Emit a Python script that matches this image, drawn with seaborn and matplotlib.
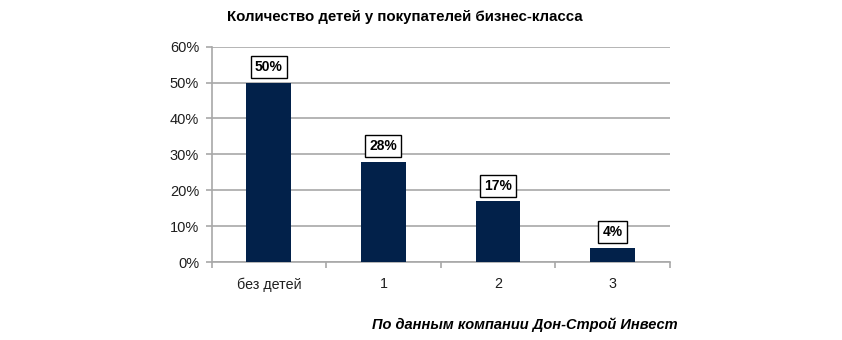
import matplotlib
matplotlib.use("Agg")
import matplotlib.pyplot as plt
import seaborn as sns
import pandas as pd

# Data: share of business-class buyers by number of children
categories = ["без детей", "1", "2", "3"]
shares = [0.50, 0.28, 0.17, 0.04]
y_ticks = [0.0, 0.1, 0.2, 0.3, 0.4, 0.5, 0.6]
y_tick_labels = ["0%", "10%", "20%", "30%", "40%", "50%", "60%"]

title = "Количество детей у покупателей бизнес-класса"
source = "По данным компании Дон-Строй Инвест"

sns.set_theme(style="white")
plt.rcParams["font.family"] = ["Liberation Sans", "DejaVu Sans"]

df = pd.DataFrame({"children": categories, "share": shares})

fig = plt.figure(figsize=(8.42, 3.40), dpi=100)
ax = fig.add_axes([0.2512, 0.2294, 0.5445, 0.6332])

bar_color = "#02214a"
sns.barplot(data=df, x="children", y="share", color=bar_color,
            width=0.39, linewidth=0, saturation=1, ax=ax, zorder=3)

ax.set_ylim(0, 0.6)
ax.set_xlim(-0.5, len(categories) - 0.5)
ax.set_yticks(y_ticks)
ax.set_yticklabels(y_tick_labels)
ax.set_xlabel("")
ax.set_ylabel("")

grid_color = "#a8a8a8"
ax.yaxis.grid(True, color=grid_color, linewidth=1.2, zorder=0)
ax.xaxis.grid(False)
for side in ["top", "right"]:
    ax.spines[side].set_visible(False)
for side in ["left", "bottom"]:
    ax.spines[side].set_color(grid_color)
    ax.spines[side].set_linewidth(1.2)

# category separators on the x axis
ax.set_xticks([i - 0.5 for i in range(len(categories) + 1)], minor=True)
ax.tick_params(axis="x", which="minor", length=4, width=1.2, color=grid_color,
               direction="out", bottom=True)
ax.tick_params(axis="x", which="major", length=0, pad=11, labelsize=10.3,
               labelcolor="#1e1e1e")
ax.tick_params(axis="y", which="major", length=4, width=1.2, color=grid_color,
               direction="out", left=True, pad=5, labelsize=10.5,
               labelcolor="#1e1e1e")

# boxed value labels above the bars
for i, v in enumerate(shares):
    ax.annotate(f"{v * 100:.0f}%", (i, v), xytext=(0, 6.0),
                textcoords="offset points", ha="center", va="bottom",
                fontsize=10, fontweight="bold", color="black", zorder=5,
                bbox=dict(boxstyle="square,pad=0.3", fc="white",
                          ec="black", lw=1.0))

fig.text(0.481, 0.95, title, ha="center", va="center",
         fontsize=10.8, fontweight="bold", color="black")
fig.text(0.805, 0.044, source, ha="right", va="center",
         fontsize=10.5, fontweight="bold", fontstyle="italic", color="black")

fig.savefig("out.png", dpi=100, facecolor="white")
